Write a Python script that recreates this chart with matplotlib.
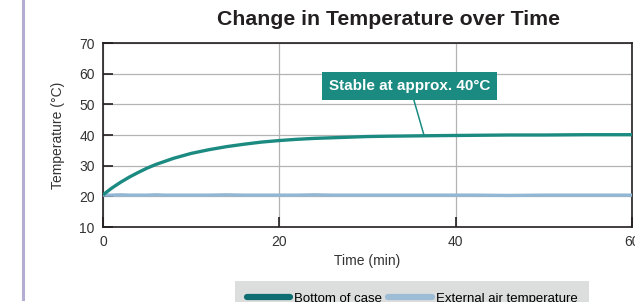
import matplotlib
matplotlib.use("Agg")
import matplotlib.pyplot as plt
from matplotlib.lines import Line2D

plt.rcParams['font.family'] = ['Liberation Sans', 'DejaVu Sans']

# ----------- DATA ------------
time_min = [0, 1, 2, 3, 4, 5, 6, 7, 8, 10, 12, 14, 16, 18, 20, 22, 24, 26,
            28, 30, 32, 35, 38, 42, 46, 50, 55, 60]
case_temp = [20.5, 22.7, 24.6, 26.3, 27.8, 29.2, 30.4, 31.4, 32.4, 34.0, 35.2,
             36.2, 37.0, 37.7, 38.2, 38.6, 38.9, 39.1, 39.3, 39.5, 39.6, 39.7,
             39.8, 39.9, 40.0, 40.0, 40.1, 40.1]
air_temp = [20.4, 20.4, 20.5, 20.4, 20.4, 20.4, 20.5, 20.4, 20.4, 20.4, 20.4,
            20.5, 20.4, 20.4, 20.4, 20.4, 20.5, 20.4, 20.4, 20.4, 20.4, 20.4,
            20.4, 20.4, 20.3, 20.4, 20.4, 20.4]

x_ticks = [0, 20, 40, 60]
y_ticks = [10, 20, 30, 40, 50, 60, 70]

title = "Change in Temperature over Time"
note = "Stable at approx. 40°C"
note_at = (36.4, 40)
note_box = (34.8, 56.0)

TEAL = "#1b8b82"
TEAL_DARK = "#0f6e72"
BLUE = "#92b7d4"
DARK = "#231f20"
GREY_TXT = "#333333"

# ----------- PLOT ------------
fig = plt.figure(figsize=(6.35, 3.02), dpi=100)
ax = fig.add_axes([0.1622, 0.2483, 0.8331, 0.6093])

ax.plot(time_min, air_temp, color=BLUE, lw=2.4, solid_capstyle='butt', zorder=3)
ax.plot(time_min, case_temp, color=TEAL, lw=2.4, solid_capstyle='butt', zorder=4)

ax.set_xlim(0, 60)
ax.set_ylim(10, 70)
ax.set_xticks(x_ticks)
ax.set_yticks(y_ticks)
ax.grid(True, color="#b3b3b3", lw=0.9)
ax.set_axisbelow(True)
ax.tick_params(direction='in', length=7, width=1.2, color=DARK,
               labelsize=10, labelcolor=GREY_TXT, pad=6)
for sp in ax.spines.values():
    sp.set_color(DARK)
    sp.set_linewidth(1.2)

ax.set_xlabel("Time (min)", fontsize=10, color=GREY_TXT, labelpad=3)
ax.set_ylabel("Temperature (°C)", fontsize=10, color=GREY_TXT, labelpad=10)
fig.text(0.612, 0.934, title, ha='center', va='center', fontsize=15.3,
         fontweight='bold', color=DARK)

ax.annotate(note, xy=note_at, xytext=note_box, ha='center', va='center',
            fontsize=11, fontweight='bold', color='white',
            bbox=dict(boxstyle='square,pad=0.45', fc=TEAL, ec='none'),
            arrowprops=dict(arrowstyle='-', color=TEAL, lw=1.1,
                            shrinkA=0, shrinkB=0), zorder=6)

# purple side bar
fig.add_artist(Line2D([0.037, 0.037], [0.01, 1.0], color="#b4acd2", lw=2.2,
                      transform=fig.transFigure))

handles = [Line2D([], [], color=TEAL_DARK, lw=4.5, solid_capstyle='round'),
           Line2D([], [], color="#9dbcd6", lw=4.5, solid_capstyle='round')]
leg = fig.legend(handles, ["Bottom of case", "External air temperature"],
                 loc='upper left', bbox_to_anchor=(0.37, 0.07), ncol=2,
                 frameon=True, fancybox=False, fontsize=9.5, handlelength=3.3,
                 handletextpad=0.3, columnspacing=0.45, borderpad=0.9,
                 borderaxespad=0)
leg.get_frame().set_facecolor("#dcdddd")
leg.get_frame().set_edgecolor("none")
leg.get_frame().set_alpha(1)

plt.savefig("out.png", dpi=100)
